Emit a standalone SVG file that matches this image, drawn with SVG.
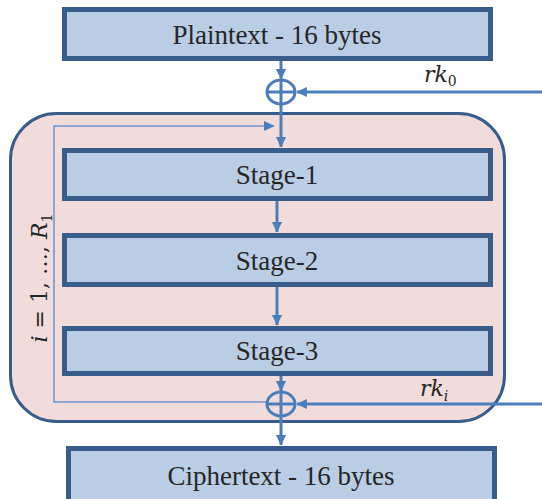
<svg xmlns="http://www.w3.org/2000/svg" width="542" height="499" viewBox="0 0 542 499">
<style>
.box{fill:#b9cde5;stroke:#385d8a;stroke-width:5}
.lbl{font-family:"Liberation Serif",serif;font-size:27px;fill:#262626;text-anchor:middle}
.arr{stroke:#4a7ebb;stroke-width:3;fill:none}
.thin{stroke:#6b93cf;stroke-width:1.5;fill:none}
.math{font-family:"DejaVu Serif","Liberation Serif",serif;font-style:italic;font-size:22px;fill:#262626}
.up{font-style:normal}
.sub{font-family:"DejaVu Serif","Liberation Serif",serif;font-size:14px;fill:#262626}
</style>
<defs>
<marker id="ah" markerWidth="4" markerHeight="4" refX="3.3" refY="2" orient="auto" markerUnits="strokeWidth">
<path d="M0,0.3 L3.5,2 L0,3.7 Z" fill="#4a7ebb"/>
</marker>
<marker id="ahs" markerWidth="8" markerHeight="8" refX="7" refY="4" orient="auto" markerUnits="strokeWidth">
<path d="M0,0.5 L7.5,4 L0,7.5 Z" fill="#4a7ebb"/>
</marker>
</defs>
<g id="round-loop">
<rect x="10.5" y="113.5" width="494" height="308" rx="46" ry="46" fill="#f2dcdb" stroke="#385d8a" stroke-width="3"/>
<text class="math" transform="translate(47,278) rotate(-90)" text-anchor="middle">i<tspan class="up"> = 1, …, </tspan>R<tspan class="sub up" dy="5">1</tspan></text>
</g>
<g id="plaintext">
<rect class="box" x="64.5" y="9.5" width="426" height="49"/>
<text class="lbl" x="277" y="44">Plaintext - 16 bytes</text>
</g>
<g id="stage1">
<rect class="box" x="64.5" y="150.5" width="426" height="48"/>
<text class="lbl" x="277" y="184">Stage-1</text>
</g>
<g id="stage2">
<rect class="box" x="64.5" y="235.5" width="426" height="49"/>
<text class="lbl" x="277" y="270">Stage-2</text>
</g>
<g id="stage3">
<rect class="box" x="64.5" y="328.5" width="426" height="45"/>
<text class="lbl" x="277" y="360">Stage-3</text>
</g>
<g id="ciphertext">
<rect class="box" x="68.5" y="448.5" width="426" height="54"/>
<text class="lbl" x="281" y="485">Ciphertext - 16 bytes</text>
</g>
<g id="xor0">
<ellipse cx="281" cy="92" rx="14" ry="12" fill="none" stroke="#4a7ebb" stroke-width="3"/>
<line x1="267" y1="92" x2="295" y2="92" stroke="#4a7ebb" stroke-width="3"/>
<line x1="281" y1="80" x2="281" y2="104" stroke="#4a7ebb" stroke-width="3"/>
</g>
<g id="xori">
<ellipse cx="281" cy="404" rx="14" ry="12" fill="none" stroke="#4a7ebb" stroke-width="3"/>
<line x1="267" y1="404" x2="295" y2="404" stroke="#4a7ebb" stroke-width="3"/>
<line x1="281" y1="392" x2="281" y2="416" stroke="#4a7ebb" stroke-width="3"/>
</g>
<g id="labels">
<text class="math" x="424" y="82">rk<tspan class="sub up" dy="4">0</tspan></text>
<text class="math" x="420" y="396">rk<tspan class="sub" font-style="italic" dy="5">i</tspan></text>
</g>
<g id="connectors">
<line class="arr" x1="281" y1="61" x2="281" y2="79" marker-end="url(#ah)"/>
<line class="arr" x1="542" y1="92" x2="297" y2="92" marker-end="url(#ah)"/>
<line class="arr" x1="281" y1="104" x2="281" y2="147" marker-end="url(#ah)"/>
<line class="arr" x1="277" y1="201" x2="277" y2="232" marker-end="url(#ah)"/>
<line class="arr" x1="277" y1="287" x2="277" y2="325" marker-end="url(#ah)"/>
<line class="arr" x1="281" y1="376" x2="281" y2="391" marker-end="url(#ah)"/>
<line class="arr" x1="542" y1="404" x2="297" y2="404" marker-end="url(#ah)"/>
<line class="arr" x1="281" y1="416" x2="281" y2="445" marker-end="url(#ah)"/>
<polyline class="thin" points="266,402 54,402 54,126 274,126" marker-end="url(#ahs)"/>
</g>
</svg>
